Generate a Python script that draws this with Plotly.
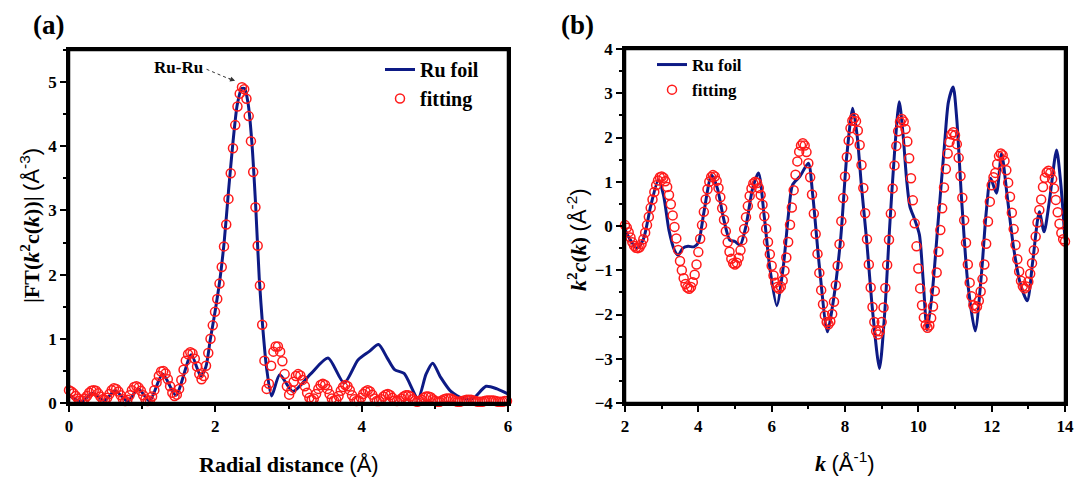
import numpy as np
import plotly.graph_objects as go

# ---------------- data: panel (a) ----------------
R_STEP = 0.0307
ft_fit = [
    0.20, 0.18, 0.15, 0.11, 0.07, 0.04, 0.04, 0.07, 0.11, 0.16,
    0.19, 0.20, 0.19, 0.15, 0.10, 0.06, 0.05, 0.08, 0.14, 0.20,
    0.23, 0.22, 0.18, 0.12, 0.06, 0.03, 0.05, 0.12, 0.20, 0.25,
    0.26, 0.24, 0.19, 0.12, 0.06, 0.03, 0.04, 0.10, 0.20, 0.32,
    0.42, 0.49, 0.50, 0.46, 0.37, 0.26, 0.16, 0.11, 0.13, 0.22,
    0.36, 0.52, 0.66, 0.76, 0.79, 0.77, 0.69, 0.57, 0.45, 0.37,
    0.42, 0.58, 0.78, 1.00, 1.21, 1.42, 1.62, 1.86, 2.12, 2.44,
    2.78, 3.18, 3.58, 3.97, 4.33, 4.62, 4.82, 4.92, 4.89, 4.74,
    4.47, 4.08, 3.60, 3.05, 2.45, 1.83, 1.22, 0.66, 0.22, 0.30,
    0.58, 0.80, 0.88, 0.88, 0.80, 0.65, 0.45, 0.26, 0.13, 0.20,
    0.33, 0.42, 0.45, 0.43, 0.36, 0.26, 0.16, 0.08, 0.05, 0.07,
    0.14, 0.22, 0.28, 0.30, 0.28, 0.22, 0.14, 0.07, 0.04, 0.05,
    0.11, 0.19, 0.25, 0.28, 0.26, 0.20, 0.12, 0.06, 0.03, 0.04,
    0.08, 0.14, 0.18, 0.20, 0.18, 0.13, 0.07, 0.03, 0.03, 0.06,
    0.10, 0.13, 0.14, 0.12, 0.08, 0.04, 0.03, 0.04, 0.07, 0.10,
    0.12, 0.12, 0.10, 0.06, 0.03, 0.02, 0.03, 0.05, 0.08, 0.10,
    0.10, 0.09, 0.06, 0.03, 0.02, 0.02, 0.04, 0.06, 0.07, 0.07,
    0.07, 0.05, 0.03, 0.02, 0.02, 0.03, 0.04, 0.05, 0.05, 0.05,
    0.04, 0.03, 0.02, 0.02, 0.02, 0.03, 0.04, 0.04, 0.04, 0.04,
    0.03, 0.02, 0.02, 0.02, 0.03, 0.03,
]
r_line = [0.00, 0.10, 0.18, 0.32, 0.48, 0.63, 0.80, 0.95, 1.10, 1.28,
          1.46, 1.67, 1.80, 1.87, 1.93, 2.00, 2.06, 2.12, 2.18, 2.24,
          2.30, 2.36, 2.40, 2.45, 2.50, 2.55, 2.60, 2.65, 2.70, 2.77,
          2.88, 3.06, 3.30, 3.54, 3.76, 3.95, 4.10, 4.23, 4.35, 4.45,
          4.58, 4.77, 4.88, 4.97, 5.08, 5.22, 5.38, 5.52, 5.70, 5.85, 6.00]
ft_line = [0.12, 0.05, 0.03, 0.15, 0.04, 0.19, 0.03, 0.22, 0.03, 0.45,
           0.12, 0.75, 0.42, 0.56, 0.98, 1.45, 1.90, 2.50, 3.30, 4.05,
           4.65, 4.90, 4.90, 4.65, 4.05, 3.10, 1.95, 1.15, 0.55, 0.11,
           0.44, 0.18, 0.45, 0.70, 0.31, 0.67, 0.80, 0.91, 0.70, 0.52,
           0.46, 0.07, 0.45, 0.62, 0.40, 0.18, 0.07, 0.07, 0.26, 0.22, 0.14]

# ---------------- data: panel (b) ----------------
K_START, K_STEP = 2.0, 0.05
chi_fit = [
    0.02, -0.04, -0.14, -0.26, -0.37, -0.45, -0.49, -0.50,
    -0.48, -0.41, -0.30, -0.15, 0.02, 0.21, 0.41, 0.60, 0.77, 0.92, 1.03, 1.10, 1.12,
    1.09, 1.01, 0.88, 0.70, 0.49, 0.24, -0.02, -0.28, -0.54, -0.79, -1.00, -1.18, -1.31, -1.39, -1.42,
    -1.38, -1.27, -1.10, -0.87, -0.59, -0.29, 0.02, 0.32, 0.60, 0.83, 1.00, 1.11, 1.15,
    1.12, 1.02, 0.86, 0.65, 0.40, 0.14, -0.12, -0.37, -0.58, -0.74, -0.84, -0.87,
    -0.83, -0.72, -0.55, -0.32, -0.07, 0.20, 0.45, 0.68, 0.85, 0.96, 1.00,
    0.97, 0.86, 0.70, 0.48, 0.22, -0.06, -0.36, -0.64, -0.90, -1.12, -1.28, -1.38, -1.42,
    -1.37, -1.23, -1.01, -0.71, -0.36, 0.03, 0.42, 0.81, 1.16, 1.46, 1.68, 1.82, 1.87,
    1.82, 1.67, 1.42, 1.10, 0.71, 0.28, -0.18, -0.63, -1.06, -1.45, -1.77, -2.02, -2.17, -2.22,
    -2.16, -1.99, -1.71, -1.34, -0.90, -0.41, 0.11, 0.63, 1.12, 1.56, 1.93, 2.21, 2.38, 2.44,
    2.37, 2.16, 1.83, 1.38, 0.86, 0.29, -0.30, -0.87, -1.39, -1.83, -2.17, -2.38, -2.45,
    -2.38, -2.17, -1.84, -1.40, -0.88, -0.31, 0.28, 0.85, 1.37, 1.81, 2.14, 2.35, 2.42,
    2.36, 2.19, 1.91, 1.53, 1.08, 0.58, 0.06, -0.46, -0.96, -1.41, -1.79, -2.07, -2.24, -2.30,
    -2.25, -2.08, -1.82, -1.47, -1.05, -0.58, -0.09, 0.40, 0.87, 1.29, 1.64, 1.90, 2.07, 2.12,
    2.05, 1.85, 1.54, 1.13, 0.64, 0.13, -0.38, -0.87, -1.28, -1.59, -1.79, -1.86,
    -1.82, -1.69, -1.48, -1.20, -0.87, -0.40, 0.10, 0.55, 0.92, 1.10, 1.20, 1.40, 1.58, 1.64,
    1.60, 1.47, 1.26, 0.98, 0.66, 0.30, -0.07, -0.43, -0.75, -1.03, -1.24, -1.36, -1.41,
    -1.37, -1.26, -1.08, -0.84, -0.55, -0.24, 0.08, 0.36, 0.60, 0.88, 1.09, 1.21, 1.25,
    1.20, 1.06, 0.85, 0.59, 0.31, 0.05, -0.16, -0.30, -0.35,
]
k_line = [2.00, 2.15, 2.32, 2.50, 2.70, 2.91, 3.05, 3.20, 3.35, 3.45,
          3.58, 3.72, 3.88, 4.00, 4.15, 4.36, 4.52, 4.68, 4.86, 5.00,
          5.14, 5.30, 5.48, 5.64, 5.80, 5.95, 6.14, 6.32, 6.45, 6.57,
          6.77, 7.00, 7.12, 7.30, 7.52, 7.68, 7.88, 8.05, 8.21, 8.33,
          8.45, 8.59, 8.75, 8.94, 9.08, 9.22, 9.35, 9.48, 9.58, 9.68,
          9.77, 9.90, 10.03, 10.13, 10.24, 10.38, 10.55, 10.72, 10.82, 10.95,
          11.05, 11.18, 11.35, 11.55, 11.72, 11.85, 11.97, 12.13, 12.27, 12.42,
          12.60, 12.78, 12.97, 13.12, 13.30, 13.43, 13.58, 13.77, 13.88, 14.00]
chi_line = [-0.08, -0.32, -0.50, -0.30, 0.45, 1.04, 0.70, -0.10, -0.55, -0.66,
            -0.50, -0.46, -0.47, -0.38, 0.30, 1.15, 0.85, 0.20, -0.32, -0.35,
            -0.43, 0.00, 0.85, 1.20, 0.20, -0.95, -1.80, -0.90, 0.20, 0.93,
            1.12, 1.42, 0.70, -0.90, -2.39, -1.70, -0.30, 1.60, 2.66, 2.05,
            0.89, -0.32, -1.90, -3.22, -2.00, 0.00, 1.65, 2.81, 2.10, 1.05,
            0.44, 0.15, -0.20, -1.20, -2.35, -1.50, 0.20, 1.90, 2.80, 3.14,
            2.40, 0.60, -1.30, -2.37, -1.10, 0.30, 1.08, 0.74, 1.64, 0.70,
            -0.50, -1.30, -1.69, -0.80, 0.32, -0.13, 0.60, 1.72, 1.00, -0.30]

r_fit = np.round(np.arange(len(ft_fit)) * R_STEP, 4)
k_fit = np.round(K_START + np.arange(len(chi_fit)) * K_STEP, 3)

# ---------------- styling ----------------
W, H = 1077, 481
SERIF = "Liberation Serif"
SANS = "Liberation Sans"
NAVY = "#0d1a85"
RED = "#ff1a1a"


def px(x):
    return x / W


def py(y):
    return 1 - y / H


PA = dict(x0=px(69), x1=px(508), y0=py(403), y1=py(50))
PB = dict(x0=px(625), x1=px(1065), y0=py(403), y1=py(49))

fig = go.Figure()

line_style = dict(color=NAVY, width=3, shape="spline", smoothing=0.7)
mark_style = dict(symbol="circle-open", size=9, color=RED, line=dict(width=1.5, color=RED))

fig.add_trace(go.Scatter(x=r_line, y=ft_line, mode="lines", name="Ru foil", line=line_style,
                         xaxis="x", yaxis="y", legend="legend"))
fig.add_trace(go.Scatter(x=r_fit, y=ft_fit, mode="markers", name="fitting", marker=mark_style,
                         cliponaxis=False, xaxis="x", yaxis="y", legend="legend"))
fig.add_trace(go.Scatter(x=k_line, y=chi_line, mode="lines", name="Ru foil", line=line_style,
                         xaxis="x2", yaxis="y2", legend="legend2"))
fig.add_trace(go.Scatter(x=k_fit, y=chi_fit, mode="markers", name="fitting", marker=mark_style,
                         cliponaxis=False, xaxis="x2", yaxis="y2", legend="legend2"))

tickfont = dict(family=SERIF, size=17, color="black", weight="bold")
minor_x = dict(dtick=1, ticks="outside", ticklen=3, tickwidth=2, tickcolor="black")
minor_y = dict(dtick=0.5, ticks="outside", ticklen=3, tickwidth=2, tickcolor="black")
common = dict(showline=True, linewidth=2.5, linecolor="black", mirror=True, automargin=False,
              ticks="outside", ticklen=6, tickwidth=2, tickcolor="black",
              showgrid=False, zeroline=False, tickfont=tickfont)

fig.update_layout(
    width=W, height=H,
    autosize=False,
    margin=dict(l=0, r=0, t=0, b=0, pad=0, autoexpand=False),
    paper_bgcolor="white", plot_bgcolor="white",
    xaxis=dict(domain=[PA["x0"], PA["x1"]], range=[0, 6], dtick=2, anchor="y", minor=minor_x, **common),
    yaxis=dict(domain=[PA["y0"], PA["y1"]], range=[0, 5.5], dtick=1, anchor="x", minor=minor_y, **common),
    xaxis2=dict(domain=[PB["x0"], PB["x1"]], range=[2, 14], dtick=2, anchor="y2", minor=minor_x, **common),
    yaxis2=dict(domain=[PB["y0"], PB["y1"]], range=[-4, 4], dtick=1, anchor="x2", minor=minor_y, **common),
    legend=dict(x=px(380), y=py(50), xanchor="left", yanchor="top",
                bgcolor="rgba(0,0,0,0)", tracegroupgap=0,
                font=dict(family=SERIF, size=20, color="black", weight="bold")),
    legend2=dict(x=px(652), y=py(47), xanchor="left", yanchor="top",
                 bgcolor="rgba(0,0,0,0)", tracegroupgap=0,
                 font=dict(family=SERIF, size=17, color="black", weight="bold")),
    showlegend=True,
)

# frames around both plot areas
for P in (PA, PB):
    fig.add_shape(type="rect", xref="paper", yref="paper", line=dict(color="black", width=2.5),
                  fillcolor="rgba(0,0,0,0)", layer="above", **P)

ann_font = dict(family=SERIF, size=22, color="black")
sans_span = "<span style='font-family:%s;font-weight:normal'>" % SANS
annotations = [
    dict(text="<b>(a)</b>", x=px(48), y=py(25), font=dict(family=SERIF, size=27, color="black")),
    dict(text="<b>(b)</b>", x=px(577), y=py(25), font=dict(family=SERIF, size=27, color="black")),
    dict(text="<b>Radial distance </b>" + sans_span + "(Å)</span>", x=px(289), y=py(464), font=ann_font),
    dict(text="<b><i>k</i></b> " + sans_span + "(Å<sup>-1</sup>)</span>", x=px(845), y=py(462), font=ann_font),
    dict(text="<b>|FT(<i>k</i><sup>2</sup>c(<i>k</i>))|</b> " + sans_span + "(Å<sup>-3</sup>)</span>",
         x=px(30), y=py(226), textangle=-90, font=ann_font),
    dict(text="<b><i>k</i><sup>2</sup><i>c</i>(<i>k</i>)</b> " + sans_span + "(Å<sup>-2</sup>)</span>",
         x=px(577), y=py(240), textangle=-90, font=ann_font),
]
for a in annotations:
    a.update(xref="paper", yref="paper", showarrow=False, xanchor="center", yanchor="middle")
    fig.add_annotation(**a)

# Ru-Ru label with dotted pointer
fig.add_annotation(text="<b>Ru-Ru</b>", x=1.5, y=5.22, xref="x", yref="y", showarrow=False,
                   font=dict(family=SERIF, size=17, color="black"))
fig.add_shape(type="line", x0=1.88, y0=5.2, x1=2.20, y1=5.045, xref="x", yref="y",
              line=dict(color="#333333", width=1, dash="dot"))
fig.add_annotation(text="", x=2.27, y=5.02, xref="x", yref="y", showarrow=True,
                   ax=-8, ay=-3, arrowhead=2, arrowsize=1, arrowwidth=1, arrowcolor="#333333")

fig.write_html("out.html", config={"displayModeBar": False},
               post_script="document.body.style.margin='0';document.body.style.padding='0';")
